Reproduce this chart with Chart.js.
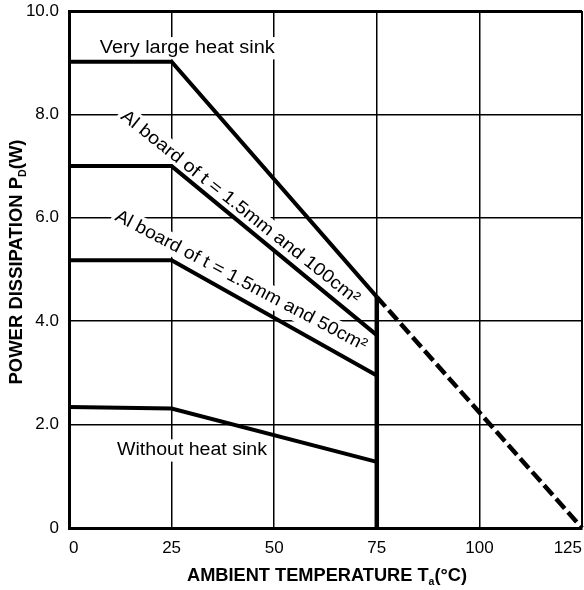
<!DOCTYPE html>
<html>
<head>
<meta charset="utf-8">
<script src="https://cdn.jsdelivr.net/npm/chart.js@4.4.1/dist/chart.umd.min.js"></script>
<style>
  html, body { margin: 0; padding: 0; background: #fff; }
</style>
</head>
<body>
<canvas id="deratingChart" width="584" height="590"></canvas>
<script>
// ambient temperature (°C) break points
const tempBreaks = [0, 25, 75];
const tempExtrapolated = [75, 125];
const tempCutoff = [75, 75];

// power dissipation (W)
const pdVeryLargeSink = [9.02, 9.02, 4.47];
const pdExtrapolated = [4.47, 0];
const pdBoard100 = [7.0, 7.0, 3.73];
const pdBoard50 = [5.18, 5.18, 2.95];
const pdNoSink = [2.34, 2.31, 1.28];
const pdCutoff = [4.47, 0];

// ticks
const xTickValues = [0, 25, 50, 75, 100, 125];
const xTickLabels = ["0", "25", "50", "75", "100", "125"];
const yTickValues = [0, 2, 4, 6, 8, 10];
const yTickLabels = ["0", "2.0", "4.0", "6.0", "8.0", "10.0"];

const FONT = "'Liberation Sans', Arial, Helvetica, sans-serif";

function toPoints(xs, ys) {
    return xs.map((x, i) => ({ x: x, y: ys[i] }));
}

// text along the curves (x, y in data units, angle in degrees)
const curveLabels = [
    { parts: [{ t: "Very large heat sink" }], x: 7.5, y: 9.28, angle: 0, align: "left", width: 175 },
    { parts: [{ t: "Al board of t = 1.5mm and 100cm²" }], x: 41.7, y: 6.2, angle: 38.5, align: "center", width: 300 },
    { parts: [{ t: "Al board of t = 1.5mm and 50cm²" }], x: 41.9, y: 4.78, angle: 27.8, align: "center", width: 282 },
    { parts: [{ t: "Without heat sink" }], x: 11.7, y: 1.5, angle: 0, align: "left", width: 150 }
];

function partsWidth(ctx, parts, size, bold) {
    let w = 0;
    parts.forEach(p => {
        const s = p.sub ? Math.round(size * 0.6) : size;
        ctx.font = (bold ? "bold " : "") + s + "px " + FONT;
        w += ctx.measureText(p.t).width;
    });
    return w;
}

// draws a run of text (with subscripts) squeezed/stretched to a given width
function drawParts(ctx, parts, x, y, opts) {
    const size = opts.size, bold = opts.bold;
    const natural = partsWidth(ctx, parts, size, bold);
    const sx = opts.width / natural;
    ctx.save();
    ctx.translate(x, y);
    ctx.rotate((opts.angle || 0) * Math.PI / 180);
    ctx.scale(sx, 1);
    let cx = opts.align === "left" ? 0 : -natural / 2;
    if (opts.background) {
        ctx.fillStyle = "#fff";
        ctx.fillRect(cx - 3, -size * 0.62, natural + 6, size * 1.24);
    }
    ctx.fillStyle = "#000";
    ctx.textBaseline = "middle";
    ctx.textAlign = "left";
    parts.forEach(p => {
        const s = p.sub ? Math.round(size * 0.6) : size;
        ctx.font = (bold ? "bold " : "") + s + "px " + FONT;
        ctx.fillText(p.t, cx, p.sub ? size * 0.3 : 0);
        cx += ctx.measureText(p.t).width;
    });
    ctx.restore();
}

const textPlugin = {
    id: "deratingText",
    beforeDraw(chart) {
        const ctx = chart.ctx;
        ctx.save();
        ctx.fillStyle = "#fff";
        ctx.fillRect(0, 0, chart.width, chart.height);
        ctx.restore();
    },
    beforeDatasetsDraw(chart) {
        const ctx = chart.ctx;
        const xs = chart.scales.x, ys = chart.scales.y;
        curveLabels.forEach(l => {
            drawParts(ctx, l.parts, xs.getPixelForValue(l.x), ys.getPixelForValue(l.y), {
                size: 18, bold: false, width: l.width, angle: l.angle, align: l.align, background: true
            });
        });
    },
    afterDraw(chart) {
        const ctx = chart.ctx;
        drawParts(ctx, [{ t: "AMBIENT TEMPERATURE T" }, { t: "a", sub: true }, { t: "(°C)" }], 327, 576, {
            size: 19, bold: true, width: 280, align: "center"
        });
        drawParts(ctx, [{ t: "POWER DISSIPATION P" }, { t: "D", sub: true }, { t: "(W)" }], 17, 262, {
            size: 19, bold: true, width: 245, angle: -90, align: "center"
        });
    }
};

const lineStyle = { borderColor: "#000", pointRadius: 0, showLine: true, tension: 0, clip: 6, borderJoinStyle: "miter" };

new Chart(document.getElementById("deratingChart"), {
    type: "scatter",
    data: {
        datasets: [
            Object.assign({ label: "Very large heat sink", data: toPoints(tempBreaks, pdVeryLargeSink), borderWidth: 4 }, lineStyle),
            Object.assign({ label: "Very large heat sink (above 75°C)", data: toPoints(tempExtrapolated, pdExtrapolated), borderWidth: 4.5, borderDash: [13, 5] }, lineStyle),
            Object.assign({ label: "Al board 100cm²", data: toPoints(tempBreaks, pdBoard100), borderWidth: 4 }, lineStyle),
            Object.assign({ label: "Al board 50cm²", data: toPoints(tempBreaks, pdBoard50), borderWidth: 4 }, lineStyle),
            Object.assign({ label: "Without heat sink", data: toPoints(tempBreaks, pdNoSink), borderWidth: 4 }, lineStyle),
            Object.assign({ label: "75°C limit", data: toPoints(tempCutoff, pdCutoff), borderWidth: 4.5 }, lineStyle)
        ]
    },
    options: {
        responsive: false,
        animation: false,
        devicePixelRatio: 1,
        layout: { padding: { top: 11, right: 2, left: 0, bottom: 0 } },
        plugins: { legend: { display: false }, tooltip: { enabled: false } },
        scales: {
            x: {
                type: "linear",
                min: 0,
                max: 125,
                afterBuildTicks: scale => { scale.ticks = xTickValues.map(v => ({ value: v })); },
                afterFit: scale => { scale.height = 62; scale.paddingLeft = 0; scale.paddingRight = 0; },
                ticks: {
                    color: "#000",
                    font: { family: FONT, size: 17 },
                    padding: 10,
                    align: "inner",
                    maxRotation: 0,
                    callback: value => xTickLabels[xTickValues.indexOf(value)]
                },
                grid: {
                    color: "#000",
                    drawTicks: false,
                    lineWidth: c => (c.tick && c.tick.value === 125 ? 2 : 1.5)
                },
                border: { color: "#000", width: 3 }
            },
            y: {
                type: "linear",
                min: 0,
                max: 10,
                afterBuildTicks: scale => { scale.ticks = yTickValues.map(v => ({ value: v })); },
                afterFit: scale => { scale.width = 69; scale.paddingTop = 0; scale.paddingBottom = 0; },
                ticks: {
                    color: "#000",
                    font: { family: FONT, size: 17 },
                    padding: 10,
                    callback: value => yTickLabels[yTickValues.indexOf(value)]
                },
                grid: {
                    color: "#000",
                    drawTicks: false,
                    lineWidth: c => (c.tick && c.tick.value === 10 ? 3 : 1.5)
                },
                border: { color: "#000", width: 3 }
            }
        }
    },
    plugins: [textPlugin]
});
</script>
</body>
</html>
